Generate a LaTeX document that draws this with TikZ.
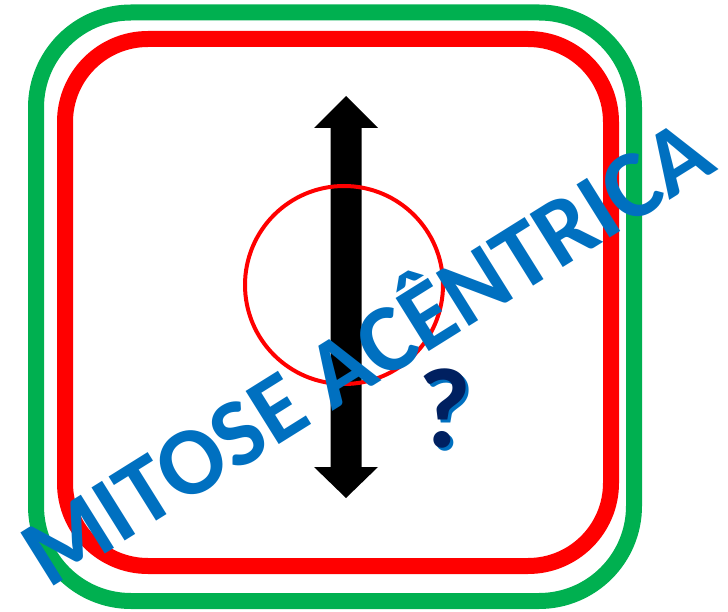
\documentclass[tikz,border=0pt]{standalone}
\usepackage{fontspec}
\setmainfont{Carlito}
\definecolor{bordergreen}{HTML}{00B050}
\definecolor{borderred}{HTML}{FF0000}
\definecolor{titleblue}{HTML}{0070C0}
\definecolor{navy}{HTML}{002060}
\tikzset{
  outerframe/.style={draw=bordergreen, line width=16pt, rounded corners=95pt},
  innerframe/.style={draw=borderred, line width=16pt, rounded corners=83pt},
  titletext/.style={text=titleblue, inner sep=0pt, font=\bfseries\fontsize{96.5}{96.5}\selectfont},
  qmark/.style={inner sep=0pt, font=\bfseries\fontsize{114}{114}\selectfont}
}
\begin{document}
\begin{tikzpicture}[x=1pt,y=-1pt]
\useasboundingbox (0,0) rectangle (728,612);
\draw[outerframe] (36,12.5) rectangle (634,601);
\draw[innerframe] (65,39) rectangle (611,566);
\fill[black] (346,96) -- (378,128) -- (361.5,128) -- (361.5,467) -- (378,467) -- (346,498)
  -- (314,467) -- (330.5,467) -- (330.5,128) -- (314,128) -- cycle;
\draw[borderred, line width=4pt] (344,285) circle[radius=99];
\node[titletext, rotate=32] (title) at (363,346) {MITOSE ACÊNTRICA};
\node[qmark, text=titleblue] (qshadow) at (447.5,411.5) {?};
\node[qmark, text=navy] (q) at (445,409) {?};
\end{tikzpicture}
\end{document}
